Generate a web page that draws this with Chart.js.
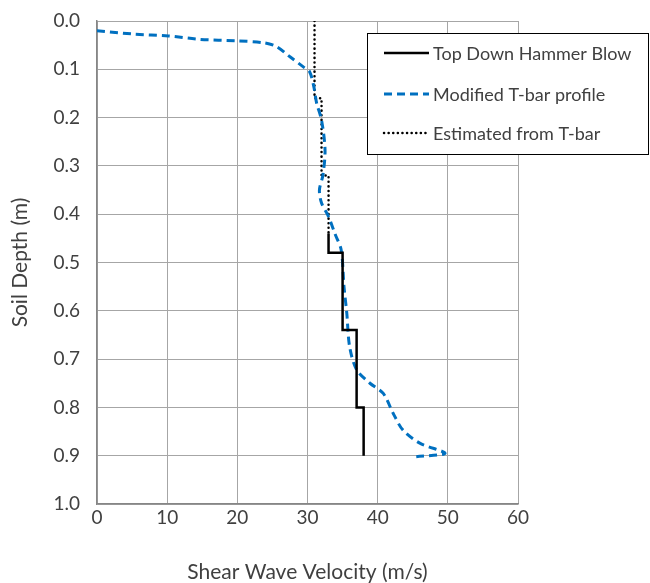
<!DOCTYPE html>
<html>
<head>
<meta charset="utf-8">
<script src="https://cdn.jsdelivr.net/npm/chart.js@4"></script>
<style>
  html, body { margin: 0; padding: 0; background: #fff; }
</style>
</head>
<body>
<canvas id="vsChart" width="650" height="583"></canvas>
<script>
// series as [velocity m/s, depth m]
const hammerVel   = [33, 33, 35, 35, 37, 37, 38, 38];
const hammerDepth = [0.44, 0.48, 0.48, 0.64, 0.64, 0.80, 0.80, 0.90];

const tbarVel   = [0, 5.2, 10.2, 14.7, 19.9, 23.7, 25.6, 27.5, 29.4, 30.3, 30.9, 31.3, 32.0, 32.5, 32.2, 31.7, 32.0, 33.0, 33.9, 34.8, 35.2, 35.6, 36.0, 37.0, 38.9, 40.8, 42.2, 43.6, 46.0, 49.6, 45.5];
const tbarDepth = [0.02, 0.027, 0.031, 0.038, 0.041, 0.045, 0.053, 0.074, 0.095, 0.105, 0.136, 0.17, 0.205, 0.267, 0.319, 0.35, 0.377, 0.405, 0.44, 0.474, 0.55, 0.605, 0.674, 0.722, 0.75, 0.771, 0.812, 0.847, 0.874, 0.895, 0.902];

const estVel   = [31, 31, 32, 32, 33, 33];
const estDepth = [0.0, 0.16, 0.16, 0.32, 0.32, 0.44];

const xTicks = [0, 10, 20, 30, 40, 50, 60];
const yTicks = [0, 0.1, 0.2, 0.3, 0.4, 0.5, 0.6, 0.7, 0.8, 0.9, 1.0];

const FONT = "Lato, 'Open Sans', sans-serif";
const txt = "#404040";

function pts(xs, ys) {
  return xs.map((x, i) => ({ x: x, y: ys[i] }));
}

// legend drawn inside the plot, like the original
const boxLegend = {
  id: "boxLegend",
  afterDraw(chart) {
    const ctx = chart.ctx;
    const x0 = 367, y0 = 33, w = 281, h = 121;
    ctx.save();
    ctx.fillStyle = "#fff";
    ctx.fillRect(x0, y0, w, h);
    ctx.strokeStyle = "#000";
    ctx.lineWidth = 1;
    ctx.strokeRect(x0 + 0.5, y0 + 0.5, w, h);
    const rows = [53, 94, 133];
    chart.data.datasets.forEach((ds, i) => {
      const y = rows[i];
      ctx.beginPath();
      ctx.strokeStyle = ds.borderColor;
      ctx.lineWidth = ds.borderWidth;
      ctx.lineCap = ds.borderCapStyle || "butt";
      ctx.setLineDash(ds.borderDash || []);
      ctx.moveTo(384, y);
      ctx.lineTo(429, y);
      ctx.stroke();
      ctx.setLineDash([]);
      ctx.fillStyle = txt;
      ctx.font = "18px " + FONT;
      ctx.textBaseline = "middle";
      ctx.textAlign = "left";
      ctx.fillText(ds.label, 433, y + 1);
    });
    ctx.restore();
  }
};

new Chart(document.getElementById("vsChart"), {
  type: "scatter",
  data: {
    datasets: [
      {
        label: "Top Down Hammer Blow",
        data: pts(hammerVel, hammerDepth),
        showLine: true,
        borderColor: "#000000",
        borderWidth: 2.5,
        pointRadius: 0,
        tension: 0
      },
      {
        label: "Modified T-bar profile",
        data: pts(tbarVel, tbarDepth),
        showLine: true,
        borderColor: "#0070c0",
        borderWidth: 3,
        borderDash: [8, 5],
        pointRadius: 0,
        tension: 0.3
      },
      {
        label: "Estimated from T-bar",
        data: pts(estVel, estDepth),
        showLine: true,
        borderColor: "#000000",
        borderWidth: 2.5,
        borderDash: [0.1, 4.5],
        borderCapStyle: "round",
        pointRadius: 0,
        tension: 0
      }
    ]
  },
  options: {
    responsive: false,
    animation: false,
    devicePixelRatio: 1,
    layout: { padding: { left: 0, right: 132, top: 21, bottom: 0 } },
    plugins: {
      legend: { display: false },
      tooltip: { enabled: false }
    },
    scales: {
      x: {
        type: "linear",
        min: 0, max: 60,
        afterBuildTicks: s => { s.ticks = xTicks.map(v => ({ value: v })); },
        afterFit: s => { s.height = 79; s.paddingLeft = 0; s.paddingRight = 0; },
        grid: { color: "#a6a6a6", drawTicks: false },
        border: { color: "#868686", width: 1.5 },
        ticks: { color: txt, font: { family: FONT, size: 19 }, padding: 2, autoSkip: false, maxRotation: 0 },
        title: { display: true, text: "Shear Wave Velocity (m/s)", color: txt, font: { family: FONT, size: 21 }, padding: { top: 14, bottom: -2 } }
      },
      y: {
        type: "linear",
        reverse: true,
        min: 0, max: 1,
        afterBuildTicks: s => { s.ticks = yTicks.map(v => ({ value: v })); },
        afterFit: s => { s.width = 97; s.paddingTop = 0; s.paddingBottom = 0; },
        grid: { color: "#a6a6a6", drawTicks: false },
        border: { color: "#868686", width: 1.5 },
        ticks: { color: txt, font: { family: FONT, size: 19 }, padding: 17, autoSkip: false, callback: v => v.toFixed(1) },
        title: { display: true, text: "Soil Depth (m)", color: txt, font: { family: FONT, size: 21 }, padding: { top: 8, bottom: 4 } }
      }
    }
  },
  plugins: [boxLegend]
});
</script>
</body>
</html>
